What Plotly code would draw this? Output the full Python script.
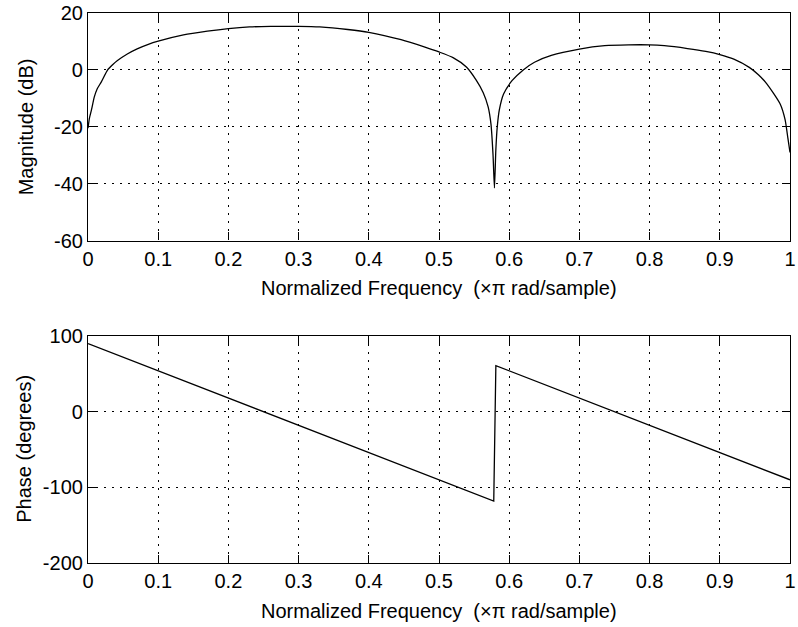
import plotly.graph_objects as go

# Normalized frequency (x pi rad/sample) and magnitude response in dB
mag_freq = [0.000, 0.002, 0.005, 0.009, 0.013, 0.019, 0.028, 0.035, 0.042, 0.056,
            0.070, 0.085, 0.100, 0.136, 0.170, 0.200, 0.230, 0.260, 0.300, 0.330,
            0.370, 0.400, 0.446, 0.480, 0.500, 0.520, 0.539, 0.553, 0.563, 0.570,
            0.574, 0.577, 0.579, 0.581, 0.583, 0.586, 0.592, 0.604, 0.620, 0.636,
            0.660, 0.700, 0.736, 0.770, 0.800, 0.821, 0.854, 0.880, 0.900, 0.920,
            0.942, 0.955, 0.967, 0.986, 0.993, 0.997, 1.000]
mag_db = [-20.5, -17.0, -14.0, -9.5, -6.7, -4.2, 0.0, 1.8, 3.3, 5.6,
          7.4, 8.9, 10.1, 12.3, 13.6, 14.5, 15.1, 15.3, 15.3, 15.1,
          14.2, 13.2, 10.6, 8.0, 6.3, 4.3, 1.0, -3.6, -8.0, -13.0,
          -19.0, -30.0, -41.5, -28.0, -20.0, -14.0, -8.5, -3.8, 0.0, 2.7,
          5.1, 7.3, 8.5, 8.8, 8.8, 8.5, 7.5, 6.5, 5.4, 3.8,
          0.9, -1.7, -4.9, -12.0, -17.5, -24.0, -29.0]

# Phase response in degrees
phase_freq = [0.000, 0.578, 0.581, 1.000]
phase_deg = [90.0, -118.0, 61.0, -90.0]

x_ticks = [0, 0.1, 0.2, 0.3, 0.4, 0.5, 0.6, 0.7, 0.8, 0.9, 1]
x_tick_text = ["0", "0.1", "0.2", "0.3", "0.4", "0.5", "0.6", "0.7", "0.8", "0.9", "1"]
mag_ticks = [-60, -40, -20, 0, 20]
mag_tick_text = ["-60", "-40", "-20", "0", "20"]
phase_ticks = [-200, -100, 0, 100]
phase_tick_text = ["-200", "-100", "0", "100"]

x_title = "Normalized Frequency  (\u00d7\u03c0 rad/sample)"
mag_title = "Magnitude (dB)"
phase_title = "Phase (degrees)"

W, H = 798, 627
M_L, M_R, M_T, M_B = 88, 2, 12, 64
PH = H - M_T - M_B
PW = W - M_L - M_R

FONT = "Liberation Sans, Arial, sans-serif"
FS = 20

fig = go.Figure()
fig.add_trace(go.Scatter(x=mag_freq, y=mag_db, mode="lines",
                         line=dict(color="black", width=1.3, shape="spline", smoothing=0.6),
                         xaxis="x", yaxis="y", showlegend=False))
fig.add_trace(go.Scatter(x=phase_freq, y=phase_deg, mode="lines",
                         line=dict(color="black", width=1.3),
                         xaxis="x2", yaxis="y2", showlegend=False))

axis_common = dict(
    showline=True, linecolor="black", linewidth=1.2, mirror="ticks",
    ticks="inside", ticklen=8, tickwidth=1.2, tickcolor="black",
    showgrid=True, gridcolor="black", gridwidth=1, griddash="1.5px,6.5px",
    zeroline=False, ticklabeloverflow="allow",
    tickfont=dict(family=FONT, size=FS, color="black"),
)

top_dom = [1 - 228 / PH, 1.0]
bot_dom = [0.0, 1 - (335.7 - M_T) / PH]

fig.update_layout(
    width=W, height=H,
    margin=dict(l=M_L, r=M_R, t=M_T, b=M_B),
    paper_bgcolor="white", plot_bgcolor="white",
    font=dict(family=FONT, size=FS, color="black"),
    xaxis=dict(domain=[0, 1], range=[0, 1], tickvals=x_ticks, ticktext=x_tick_text,
               anchor="y", **axis_common),
    yaxis=dict(domain=top_dom, range=[-60, 20], tickvals=mag_ticks,
               ticktext=mag_tick_text, anchor="x", **axis_common),
    xaxis2=dict(domain=[0, 1], range=[0, 1], tickvals=x_ticks, ticktext=x_tick_text,
                anchor="y2", **axis_common),
    yaxis2=dict(domain=bot_dom, range=[-200, 100], tickvals=phase_ticks,
                ticktext=phase_tick_text, anchor="x2", **axis_common),
)


def px_x(px):
    return (px - M_L) / PW


def px_y(py):
    return 1 - (py - M_T) / PH


labels = [
    (x_title, 442.5, 287, 0),
    (x_title, 442.5, 611, 0),
    (mag_title, 25, 126, -90),
    (phase_title, 24, 449, -90),
]
for text, lx, ly, ang in labels:
    fig.add_annotation(text=text, x=px_x(lx), y=px_y(ly), xref="paper", yref="paper",
                       xanchor="center", yanchor="middle", textangle=ang,
                       showarrow=False, font=dict(family=FONT, size=FS, color="black"))

fig.write_html("out.html")
